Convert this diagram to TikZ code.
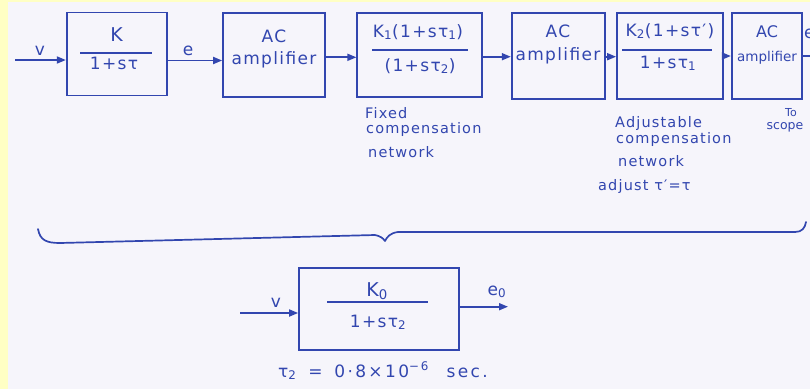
\documentclass[tikz,border=0pt]{standalone}
\usepackage{fontspec}
\setmainfont{DejaVu Sans}
\newfontfamily\hand{DejaVu Sans}[LetterSpace=8]
\newfontfamily\handw{DejaVu Sans}[LetterSpace=14]
\usetikzlibrary{arrows.meta}
\definecolor{ink}{RGB}{50,70,175}
\definecolor{paper}{RGB}{246,245,251}
\definecolor{yel}{RGB}{255,255,196}
\tikzset{
  blk/.style={draw=ink, line width=1.7pt, inner sep=0pt},
  bt/.style={text=ink, font=\hand\fontsize{17}{20}\selectfont, inner sep=0pt, anchor=base},
  lt/.style={text=ink, font=\hand\fontsize{14.5}{17}\selectfont, inner sep=0pt, anchor=base west},
  fl/.style={draw=ink, line width=1.7pt},
  arr/.style={draw=ink, line width=1.7pt, -{Triangle[length=9pt,width=7pt]}},
  brace/.style={draw=ink, line width=1.7pt, line cap=round, line join=round}
}
\begin{document}
\begin{tikzpicture}[x=1pt,y=-1pt]
\useasboundingbox (0,0) rectangle (810,389);
\fill[paper] (0,0) rectangle (810,389);
\fill[yel] (0,0) rectangle (8,389);
\fill[yel] (0,0) rectangle (810,2);

% top row blocks
\node[blk, minimum width=100pt, minimum height=83pt] (b1) at (116.7,54.1) {};
\node[blk, minimum width=102pt, minimum height=84pt] (b2) at (274,54.7) {};
\node[blk, minimum width=124.7pt, minimum height=84.3pt] (b3) at (419.6,54.9) {};
\node[blk, minimum width=93.3pt, minimum height=86pt] (b4) at (558.3,56.3) {};
\node[blk, minimum width=105.7pt, minimum height=86pt] (b5) at (669.8,56.3) {};
\node[blk, minimum width=70pt, minimum height=86pt] (b6) at (766.7,56.3) {};

% block texts
\node[bt, font=\hand\fontsize{19}{22}\selectfont] (b1n) at (116.7,41.5) {K};
\draw[fl] (80,52.7) -- (152,52.7);
\node[bt] (b1d) at (114,69) {1+sτ};

\node[bt] (b2a) at (274,42) {AC};
\node[bt] (b2b) at (274,64) {amplifier};

\node[bt] (b3n) at (418,37) {K\textsubscript{1}(1+sτ\textsubscript{1})};
\draw[fl] (372,50) -- (468,50);
\node[bt] (b3d) at (420,71) {(1+sτ\textsubscript{2})};

\node[bt] (b4a) at (558,37) {AC};
\node[bt] (b4b) at (558,60) {amplifier};

\node[bt] (b5n) at (670,36) {K\textsubscript{2}(1+sτ′)};
\draw[fl] (622,50) -- (712,50);
\node[bt] (b5d) at (668,68) {1+sτ\textsubscript{1}};

\node[bt, font=\fontsize{16}{18}\selectfont] (b6a) at (767,37) {AC};
\node[bt, font=\fontsize{13.5}{16}\selectfont] (b6b) at (767,61) {amplifier};

% top row connectors
\coordinate (vin) at (15,60);
\coordinate (eout) at (812,56);
\draw[arr] (vin) -- (b1.west |- vin);
\draw[arr] (b1.east |- 0,60.5) -- (b2.west |- 0,60.5);
\draw[arr] (b2.east |- 0,57.3) -- (b3.west |- 0,57.3);
\draw[arr] (b3.east |- 0,56.7) -- (b4.west |- 0,56.7);
\draw[arr] (b4.east |- 0,56.7) -- (b5.west |- 0,56.7);
\draw[arr] (b5.east |- 0,56) -- (b6.west |- 0,56);
\draw[fl] (b6.east |- eout) -- (eout);

\node[bt] (lv) at (40,55) {v};
\node[bt] (le) at (188,55) {e};
\node[bt, anchor=base west] (le2) at (804,38) {e};

% annotations
\node[lt] (f1) at (365,118) {Fixed};
\node[lt] (f2) at (366,133) {compensation};
\node[lt] (f3) at (368,157) {network};

\node[lt] (a1) at (615,127) {Adjustable};
\node[lt] (a2) at (616,143) {compensation};
\node[lt] (a3) at (618,166) {network};
\node[lt] (a4) at (598,190) {adjust τ′=τ};

\node[bt, font=\fontsize{11}{12}\selectfont] (s1) at (791,116) {To};
\node[bt, font=\fontsize{12.5}{14}\selectfont] (s2) at (785,129) {scope};

% brace
\draw[brace] (38,229) .. controls (40,240) and (46,243) .. (60,243)
  -- (375,235) .. controls (380,236) and (383,238) .. (385,241)
  .. controls (387,237) and (390,233) .. (398,232)
  -- (795,232) .. controls (802,232) and (805,228) .. (806,222);

% bottom block
\node[blk, minimum width=160pt, minimum height=82pt] (b0) at (379,309) {};
\node[bt, font=\hand\fontsize{19}{22}\selectfont] (b0n) at (377,296) {K\textsubscript{0}};
\draw[fl] (327,302) -- (428,302);
\node[bt] (b0d) at (378,327) {1+sτ\textsubscript{2}};

\coordinate (vin2) at (240,313);
\coordinate (eo2) at (508,306.7);
\draw[arr] (vin2) -- (b0.west |- vin2);
\draw[arr] (b0.east |- eo2) -- (eo2);
\node[bt] (lv2) at (276,307) {v};
\node[bt] (le0) at (497,295) {e\textsubscript{0}};

\node[lt, font=\handw\fontsize{17}{20}\selectfont] (tau) at (278,377) {τ\textsubscript{2}\hspace{4pt} = \hspace{4pt}0·8×10\textsuperscript{−6}\hspace{10pt} sec.};
\end{tikzpicture}
\end{document}
